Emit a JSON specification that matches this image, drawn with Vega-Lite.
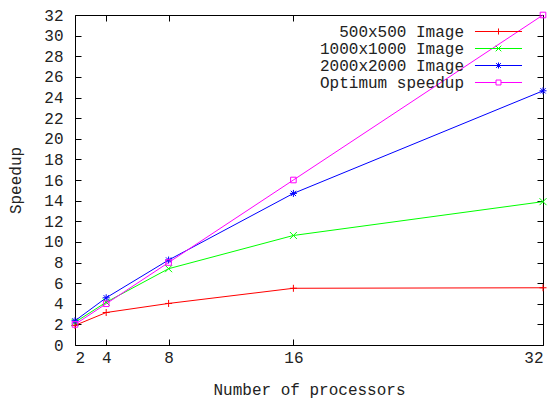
{
  "$schema": "https://vega.github.io/schema/vega-lite/v6.json",
  "width": 468,
  "height": 330,
  "autosize": {"type": "none"},
  "padding": {"left": 75, "top": 15, "right": 17, "bottom": 60},
  "background": "white",
  "config": {
    "font": "Liberation Mono",
    "view": {"stroke": null},
    "axis": {
      "grid": false,
      "domainColor": "#000000",
      "domainWidth": 1,
      "tickColor": "#000000",
      "tickWidth": 1,
      "tickSize": -6,
      "labelFont": "Liberation Mono",
      "labelFontSize": 16,
      "labelColor": "#222222",
      "titleFont": "Liberation Mono",
      "titleFontSize": 16,
      "titleFontWeight": "normal",
      "titleColor": "#222222"
    }
  },
  "data": {
    "values": [
      {"procs": 2, "speedup": 1.9, "series": "500x500 Image"},
      {"procs": 4, "speedup": 3.15, "series": "500x500 Image"},
      {"procs": 8, "speedup": 4.03, "series": "500x500 Image"},
      {"procs": 16, "speedup": 5.5, "series": "500x500 Image"},
      {"procs": 32, "speedup": 5.55, "series": "500x500 Image"},
      {"procs": 2, "speedup": 2.2, "series": "1000x1000 Image"},
      {"procs": 4, "speedup": 4.15, "series": "1000x1000 Image"},
      {"procs": 8, "speedup": 7.4, "series": "1000x1000 Image"},
      {"procs": 16, "speedup": 10.62, "series": "1000x1000 Image"},
      {"procs": 32, "speedup": 13.9, "series": "1000x1000 Image"},
      {"procs": 2, "speedup": 2.35, "series": "2000x2000 Image"},
      {"procs": 4, "speedup": 4.58, "series": "2000x2000 Image"},
      {"procs": 8, "speedup": 8.24, "series": "2000x2000 Image"},
      {"procs": 16, "speedup": 14.7, "series": "2000x2000 Image"},
      {"procs": 32, "speedup": 24.65, "series": "2000x2000 Image"},
      {"procs": 2, "speedup": 2, "series": "Optimum speedup"},
      {"procs": 4, "speedup": 4, "series": "Optimum speedup"},
      {"procs": 8, "speedup": 8, "series": "Optimum speedup"},
      {"procs": 16, "speedup": 16, "series": "Optimum speedup"},
      {"procs": 32, "speedup": 32, "series": "Optimum speedup"}
    ]
  },
  "layer": [
    {
      "mark": {"type": "line", "strokeWidth": 1},
      "encoding": {
        "x": {
          "field": "procs", "type": "quantitative",
          "scale": {"domain": [2, 32], "nice": false, "zero": false},
          "axis": {
            "orient": "bottom",
            "values": [2, 4, 8, 16, 32],
            "labelPadding": 10,
            "labelDx": 5,
            "title": "Number of processors",
            "titleY": 44,
            "titleBaseline": "middle"
          }
        },
        "y": {
          "field": "speedup", "type": "quantitative",
          "scale": {"domain": [0, 32], "nice": false, "zero": false},
          "axis": {
            "orient": "left",
            "values": [0, 2, 4, 6, 8, 10, 12, 14, 16, 18, 20, 22, 24, 26, 28, 30, 32],
            "labelPadding": 18,
            "title": "Speedup",
            "titleX": -60,
            "titleY": 165,
            "titleAngle": -90,
            "titleBaseline": "middle",
            "titleAlign": "center"
          }
        },
        "color": {
          "field": "series", "type": "nominal",
          "scale": {
            "domain": ["500x500 Image", "1000x1000 Image", "2000x2000 Image", "Optimum speedup"],
            "range": ["#ff0000", "#00ff00", "#0000ff", "#ff00ff"]
          },
          "legend": {
            "orient": "none",
            "legendX": 415,
            "legendY": 8,
            "title": null,
            "labelFont": "Liberation Mono",
            "labelFontSize": 16,
            "labelColor": "#222222",
            "labelAlign": "right",
            "labelOffset": -43,
            "symbolSize": 256,
            "symbolStrokeWidth": 1,
            "rowPadding": 0,
            "padding": 0,
            "encode": {
              "symbols": {
                "update": {
                  "shape": {"signal": "datum.value === '500x500 Image' ? 'M-2.94,0L2.94,0M0,-0.38L0,0.38' : datum.value === '1000x1000 Image' ? 'M-2.94,0L2.94,0M-0.35,-0.35L0.35,0.35M-0.35,0.35L0.35,-0.35' : datum.value === '2000x2000 Image' ? 'M-2.94,0L2.94,0M0,-0.38L0,0.38M-0.3,-0.3L0.3,0.3M-0.3,0.3L0.3,-0.3' : 'M-2.94,0L-0.31,0M0.31,0L2.94,0M-0.31,-0.31L0.31,-0.31L0.31,0.31L-0.31,0.31Z'"},
                  "fill": {"value": "transparent"},
                  "strokeWidth": {"value": 1}
                }
              }
            }
          }
        }
      }
    },
    {
      "transform": [{"filter": "datum.series === '500x500 Image'"}],
      "mark": {"type": "point", "filled": false, "size": 49, "strokeWidth": 1, "opacity": 1, "color": "#ff0000", "shape": "M-1,0L1,0M0,-1L0,1"},
      "encoding": {
        "x": {"field": "procs", "type": "quantitative", "axis": null},
        "y": {"field": "speedup", "type": "quantitative", "axis": null}
      }
    },
    {
      "transform": [{"filter": "datum.series === '1000x1000 Image'"}],
      "mark": {"type": "point", "filled": false, "size": 49, "strokeWidth": 1, "opacity": 1, "color": "#00ff00", "shape": "M-1,-1L1,1M-1,1L1,-1"},
      "encoding": {
        "x": {"field": "procs", "type": "quantitative", "axis": null},
        "y": {"field": "speedup", "type": "quantitative", "axis": null}
      }
    },
    {
      "transform": [{"filter": "datum.series === '2000x2000 Image'"}],
      "mark": {"type": "point", "filled": false, "size": 49, "strokeWidth": 1, "opacity": 1, "color": "#0000ff", "shape": "M-1,0L1,0M0,-1L0,1M-0.75,-0.75L0.75,0.75M-0.75,0.75L0.75,-0.75"},
      "encoding": {
        "x": {"field": "procs", "type": "quantitative", "axis": null},
        "y": {"field": "speedup", "type": "quantitative", "axis": null}
      }
    },
    {
      "transform": [{"filter": "datum.series === 'Optimum speedup'"}],
      "mark": {"type": "point", "filled": false, "size": 49, "strokeWidth": 1, "opacity": 1, "color": "#ff00ff", "shape": "M-0.8,-0.8L0.8,-0.8L0.8,0.8L-0.8,0.8Z"},
      "encoding": {
        "x": {"field": "procs", "type": "quantitative", "axis": null},
        "y": {"field": "speedup", "type": "quantitative", "axis": null}
      }
    },
    {
      "mark": {"type": "point", "opacity": 0},
      "encoding": {
        "x": {
          "field": "procs", "type": "quantitative",
          "axis": {"orient": "top", "values": [2, 4, 8, 16, 32], "labels": false, "title": null}
        },
        "y": {
          "field": "speedup", "type": "quantitative",
          "axis": {"orient": "right", "values": [0, 2, 4, 6, 8, 10, 12, 14, 16, 18, 20, 22, 24, 26, 28, 30, 32], "labels": false, "title": null}
        }
      }
    }
  ],
  "resolve": {"axis": {"x": "independent", "y": "independent"}}
}
